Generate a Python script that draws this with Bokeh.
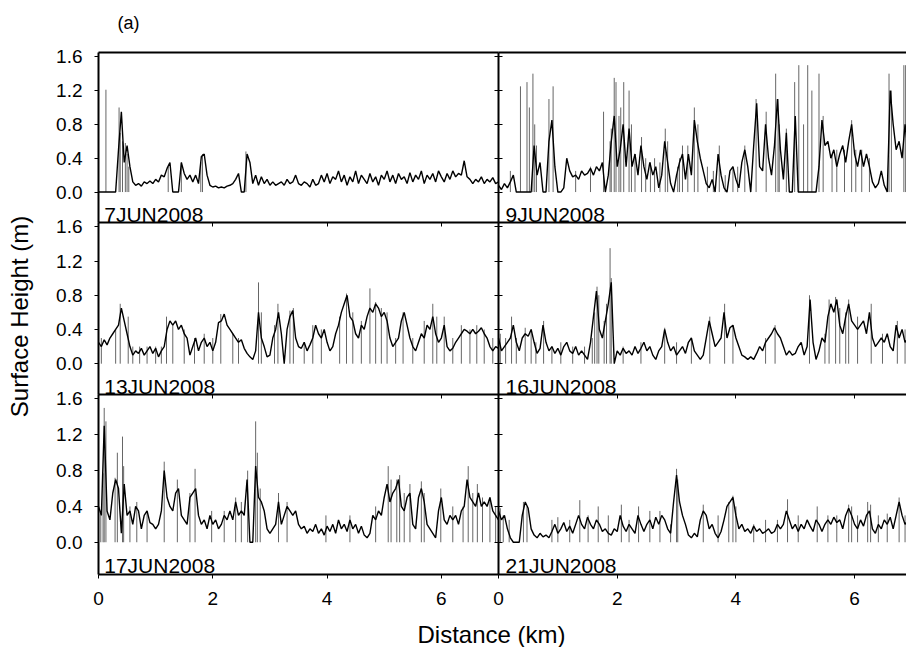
import math
from bokeh.plotting import figure
from bokeh.models import Range1d, LinearAxis, FixedTicker, PrintfTickFormatter, Label
from bokeh.embed import file_html
from bokeh.resources import INLINE

# ---------------- data ----------------
distance_km = [
    0.00, 0.05, 0.10, 0.15, 0.20, 0.25, 0.30, 0.35, 0.40, 0.45,
    0.50, 0.55, 0.60, 0.65, 0.70, 0.75, 0.80, 0.85, 0.90, 0.95,
    1.00, 1.05, 1.10, 1.15, 1.20, 1.25, 1.30, 1.35, 1.40, 1.45,
    1.50, 1.55, 1.60, 1.65, 1.70, 1.75, 1.80, 1.85, 1.90, 1.95,
    2.00, 2.05, 2.10, 2.15, 2.20, 2.25, 2.30, 2.35, 2.40, 2.45,
    2.50, 2.55, 2.60, 2.65, 2.70, 2.75, 2.80, 2.85, 2.90, 2.95,
    3.00, 3.05, 3.10, 3.15, 3.20, 3.25, 3.30, 3.35, 3.40, 3.45,
    3.50, 3.55, 3.60, 3.65, 3.70, 3.75, 3.80, 3.85, 3.90, 3.95,
    4.00, 4.05, 4.10, 4.15, 4.20, 4.25, 4.30, 4.35, 4.40, 4.45,
    4.50, 4.55, 4.60, 4.65, 4.70, 4.75, 4.80, 4.85, 4.90, 4.95,
    5.00, 5.05, 5.10, 5.15, 5.20, 5.25, 5.30, 5.35, 5.40, 5.45,
    5.50, 5.55, 5.60, 5.65, 5.70, 5.75, 5.80, 5.85, 5.90, 5.95,
    6.00, 6.05, 6.10, 6.15, 6.20, 6.25, 6.30, 6.35, 6.40, 6.45,
    6.50, 6.55, 6.60, 6.65, 6.70, 6.75, 6.80, 6.85, 6.90, 6.95,
    7.00,
]

panel_dates = ["7JUN2008", "9JUN2008", "13JUN2008", "16JUN2008", "17JUN2008", "21JUN2008"]

height_7jun = [
    0, 0, 0, 0, 0, 0, 0, 0.5, 0.95, 0.35,
    0.55, 0.3, 0.12, 0.08, 0.1, 0.07, 0.12, 0.1, 0.13, 0.1,
    0.15, 0.12, 0.2, 0.18, 0.28, 0.35, 0.0, 0.0, 0.0, 0.35,
    0.22, 0.15, 0.2, 0.12, 0.2, 0.1, 0.42, 0.45, 0.2, 0.08,
    0.06, 0.07, 0.05, 0.06, 0.05, 0.07, 0.08, 0.1, 0.15, 0.22,
    0.0, 0.0, 0.45, 0.35, 0.1, 0.2, 0.08, 0.18, 0.1, 0.15,
    0.08, 0.12, 0.08, 0.1, 0.12, 0.08, 0.15, 0.1, 0.12, 0.2,
    0.1, 0.08, 0.12, 0.1, 0.06, 0.15, 0.08, 0.1, 0.2, 0.12,
    0.22, 0.1, 0.18, 0.15, 0.25, 0.12, 0.2, 0.08, 0.18, 0.12,
    0.25, 0.1, 0.2, 0.15, 0.1, 0.22, 0.12, 0.18, 0.08, 0.2,
    0.15, 0.25, 0.12, 0.2, 0.1, 0.22, 0.15, 0.18, 0.1, 0.23,
    0.12, 0.2, 0.15, 0.25, 0.1, 0.2, 0.15, 0.22, 0.12, 0.25,
    0.18, 0.12, 0.22, 0.15, 0.25, 0.18, 0.22, 0.2, 0.37, 0.18,
    0.15, 0.1, 0.15, 0.12, 0.18, 0.1, 0.15, 0.12, 0.17, 0.1,
    0.12,
]
height_9jun = [
    0.08, 0.03, 0.1, 0.05, 0.12, 0.2, 0.0, 0.0, 0.0, 0.0,
    0.0, 0.0, 0.55, 0.2, 0.35, 0.0, 0.0, 0.6, 0.85, 0.3,
    0.0, 0.0, 0.05, 0.4, 0.25, 0.18, 0.2, 0.15, 0.25, 0.2,
    0.22, 0.28, 0.2, 0.3, 0.25, 0.35, 0.0, 0.2, 0.6, 0.9,
    0.3, 0.5, 0.8, 0.3, 0.75, 0.3, 0.45, 0.2, 0.55, 0.3,
    0.15, 0.35, 0.2, 0.3, 0.05, 0.2, 0.6, 0.35, 0.1, 0.0,
    0.2, 0.35, 0.45, 0.15, 0.45, 0.2, 0.85, 0.6, 0.4, 0.25,
    0.1, 0.05, 0.15, 0.0, 0.45, 0.2, 0.05, 0.0, 0.25, 0.3,
    0.15, 0.05, 0.35, 0.5, 0.3, 0.0, 0.55, 1.05, 0.3, 0.25,
    0.8, 0.4, 0.2, 0.55, 1.1, 0.5, 0.15, 0.7, 0.0, 0.0,
    0.9, 0.0, 0.0, 0.0, 0.0, 0.0, 0.0, 0.0, 0.3, 0.85,
    0.55, 0.6, 0.4, 0.5, 0.3, 0.45, 0.55, 0.35, 0.6, 0.8,
    0.45, 0.3, 0.5, 0.3, 0.45, 0.3, 0.12, 0.05, 0.1, 0.25,
    0.08, 0.0, 1.2, 0.8, 0.5, 0.6, 0.4, 0.8, 0.5, 0.6,
    0.4,
]
height_13jun = [
    0.25, 0.2, 0.28, 0.22, 0.3, 0.35, 0.4, 0.45, 0.65, 0.5,
    0.35, 0.2, 0.1, 0.15, 0.12, 0.18, 0.1, 0.15, 0.2, 0.12,
    0.18, 0.08, 0.15, 0.2, 0.4, 0.5, 0.45, 0.5, 0.4, 0.45,
    0.35, 0.3, 0.1, 0.2, 0.3, 0.15, 0.25, 0.3, 0.2, 0.25,
    0.15, 0.25, 0.48, 0.5, 0.58, 0.45, 0.4, 0.35, 0.3, 0.25,
    0.28, 0.18, 0.12, 0.08, 0.05, 0.15, 0.6, 0.3, 0.2, 0.08,
    0.1, 0.3, 0.4, 0.6, 0.35, 0.0, 0.4, 0.55, 0.62, 0.3,
    0.2, 0.18, 0.25, 0.15, 0.22, 0.3, 0.45, 0.35, 0.3, 0.4,
    0.25, 0.15, 0.2, 0.35, 0.45, 0.6, 0.7, 0.8, 0.55, 0.5,
    0.35, 0.3, 0.45, 0.4, 0.55, 0.65, 0.6, 0.7, 0.65, 0.55,
    0.6, 0.5, 0.3, 0.2, 0.25, 0.3, 0.5, 0.6, 0.45, 0.3,
    0.2, 0.15, 0.25, 0.35, 0.3, 0.45, 0.4, 0.55, 0.35, 0.25,
    0.3, 0.45, 0.2, 0.15, 0.18, 0.25, 0.3, 0.35, 0.4, 0.38,
    0.35, 0.4, 0.35, 0.38, 0.42, 0.35, 0.3, 0.2, 0.15, 0.2,
    0.18,
]
height_16jun = [
    0.3, 0.15, 0.2, 0.25, 0.3, 0.45, 0.25, 0.15, 0.3, 0.35,
    0.32, 0.4, 0.25, 0.12, 0.18, 0.45, 0.25, 0.15, 0.2, 0.12,
    0.18, 0.1, 0.2, 0.25, 0.15, 0.12, 0.2, 0.1, 0.15, 0.1,
    0.05, 0.25, 0.55, 0.85, 0.4, 0.3, 0.5, 0.7, 0.95, 0.0,
    0.15, 0.1, 0.18, 0.12, 0.15, 0.1, 0.2, 0.12, 0.18, 0.25,
    0.15, 0.2, 0.1, 0.05, 0.15, 0.2, 0.4, 0.25, 0.15, 0.2,
    0.1, 0.15, 0.2, 0.12, 0.25, 0.3, 0.15, 0.1, 0.05, 0.1,
    0.3, 0.5, 0.35, 0.2, 0.25, 0.3, 0.6, 0.3, 0.42, 0.45,
    0.3, 0.2, 0.1, 0.08, 0.05, 0.08, 0.05, 0.12, 0.2, 0.15,
    0.25, 0.3, 0.35, 0.42, 0.35, 0.3, 0.2, 0.1, 0.15, 0.1,
    0.12, 0.2, 0.25, 0.1, 0.2, 0.75, 0.25, 0.05, 0.15, 0.3,
    0.25, 0.55, 0.7, 0.6, 0.75, 0.45, 0.35, 0.55, 0.7, 0.5,
    0.45, 0.4, 0.45, 0.5, 0.35, 0.6, 0.3, 0.2, 0.25, 0.3,
    0.25, 0.35, 0.2, 0.15, 0.45, 0.3, 0.4, 0.25, 0.3, 0.2,
    0.25,
]
height_17jun = [
    0.4, 0.3, 1.3, 0.35, 0.25, 0.55, 0.7, 0.6, 0.1, 0.65,
    0.3, 0.35, 0.2, 0.4, 0.35, 0.15, 0.3, 0.35, 0.22, 0.2,
    0.15, 0.2, 0.35, 0.8, 0.5, 0.4, 0.35, 0.55, 0.6, 0.3,
    0.25, 0.2, 0.5, 0.55, 0.6, 0.3, 0.2, 0.25, 0.15, 0.3,
    0.2, 0.25, 0.15, 0.2, 0.3, 0.25, 0.35, 0.25, 0.45, 0.3,
    0.35, 0.3, 0.7, 0.0, 0.0, 0.85, 0.5, 0.45, 0.35, 0.15,
    0.1, 0.15, 0.2, 0.45, 0.2, 0.3, 0.4, 0.35, 0.3, 0.35,
    0.2, 0.15, 0.18, 0.1, 0.15, 0.12, 0.2, 0.1, 0.15, 0.08,
    0.18, 0.12, 0.2, 0.1, 0.25, 0.15, 0.2, 0.12, 0.25, 0.15,
    0.2, 0.1, 0.18, 0.08, 0.05, 0.1, 0.3, 0.25, 0.35, 0.3,
    0.5, 0.65, 0.45, 0.55, 0.6, 0.7, 0.4, 0.35, 0.5, 0.55,
    0.2, 0.15, 0.5, 0.6, 0.45, 0.2, 0.15, 0.1, 0.05, 0.35,
    0.5, 0.25, 0.2, 0.3, 0.25, 0.3, 0.2, 0.35, 0.4, 0.7,
    0.5, 0.45, 0.4, 0.55, 0.4, 0.45, 0.4, 0.5, 0.35, 0.3,
    0.25,
]
height_21jun = [
    0.35, 0.25, 0.3, 0.15, 0.05, 0.0, 0.0, 0.0, 0.3, 0.45,
    0.38, 0.15, 0.08, 0.05, 0.1, 0.06, 0.08, 0.05, 0.12, 0.2,
    0.1, 0.15, 0.22, 0.12, 0.18, 0.1, 0.2, 0.3, 0.2, 0.15,
    0.28, 0.2, 0.15, 0.25, 0.2, 0.12, 0.15, 0.1, 0.08, 0.15,
    0.12, 0.3, 0.18, 0.12, 0.2, 0.15, 0.1, 0.3, 0.2, 0.12,
    0.2, 0.25, 0.15, 0.28, 0.2, 0.3, 0.25, 0.15, 0.1, 0.45,
    0.75, 0.45, 0.3, 0.2, 0.08, 0.05, 0.1, 0.06, 0.25, 0.35,
    0.3, 0.15, 0.2, 0.1, 0.05, 0.12, 0.25, 0.4, 0.45, 0.5,
    0.3, 0.15, 0.2, 0.12, 0.15, 0.1, 0.18, 0.12, 0.15, 0.1,
    0.12, 0.15, 0.1, 0.12, 0.2, 0.15, 0.2, 0.35, 0.25, 0.15,
    0.2, 0.12, 0.2, 0.15, 0.25, 0.18, 0.12, 0.25, 0.2, 0.12,
    0.2, 0.25, 0.2, 0.28, 0.22, 0.25, 0.15, 0.3, 0.38, 0.3,
    0.2, 0.15, 0.25, 0.18, 0.3, 0.35, 0.15, 0.1, 0.2, 0.15,
    0.25, 0.2, 0.28, 0.15, 0.3, 0.45, 0.3, 0.2, 0.25, 0.15,
    0.2,
]

# thin vertical drop-outs / spikes (position km, height m)
spike_km_7jun = [0.13, 0.36, 0.38, 0.42, 0.47, 0.50, 0.53, 1.22, 1.45, 1.79, 1.82, 2.58]
spike_m_7jun = [1.21, 1.0, 0.7, 0.6, 0.58, 0.45, 0.3, 0.3, 0.35, 0.35, 0.45, 0.48]

spike_km_9jun = [0.2, 0.37, 0.48, 0.52, 0.58, 0.61, 0.64, 0.85, 0.92, 1.3, 1.55, 1.77, 1.88, 1.9,
                 1.95, 1.98, 2.03, 2.06, 2.11, 2.2, 2.24, 2.3, 2.41, 2.48, 2.56, 2.63, 2.72, 2.81,
                 2.85, 3.02, 3.05, 3.1, 3.19, 3.3, 3.36, 3.52, 3.62, 3.72, 3.82, 3.95, 4.03, 4.15,
                 4.34, 4.51, 4.67, 4.71, 4.73, 4.85, 4.99, 5.06, 5.14, 5.21, 5.28, 5.4, 5.47, 5.62,
                 5.7, 5.83, 5.95, 6.02, 6.12, 6.25, 6.58, 6.62, 6.83, 6.86]
spike_m_9jun = [0.25, 1.25, 1.3, 1.0, 1.4, 0.8, 0.55, 1.1, 1.25, 0.25, 0.3, 0.95, 0.6, 0.75,
                1.35, 1.3, 0.9, 1.0, 1.3, 1.2, 0.8, 0.45, 0.65, 0.4, 0.35, 0.4, 0.35, 0.75,
                0.6, 0.3, 0.4, 0.55, 0.55, 1.0, 0.8, 0.3, 0.25, 0.55, 0.2, 0.3, 0.3, 0.55,
                1.1, 0.95, 1.4, 1.1, 0.8, 0.75, 1.3, 1.5, 0.8, 1.5, 1.2, 1.4, 0.9, 0.45,
                0.5, 0.5, 0.85, 0.5, 0.5, 0.4, 1.4, 1.2, 1.5, 1.5]

spike_km_13jun = [0.05, 0.3, 0.38, 0.52, 0.6, 0.72, 0.85, 1.0, 1.1, 1.19, 1.3, 1.5, 1.68, 1.85,
                  2.0, 2.14, 2.35, 2.45, 2.8, 2.85, 3.08, 3.14, 3.35, 3.41, 3.6, 3.75, 3.9, 4.22,
                  4.34, 4.45, 4.6, 4.75, 4.85, 4.95, 5.05, 5.2, 5.33, 5.5, 5.7, 5.85, 5.92, 6.05,
                  6.2, 6.35, 6.5, 6.62, 6.75, 6.9]
spike_m_13jun = [0.3, 0.4, 0.7, 0.55, 0.2, 0.2, 0.2, 0.2, 0.2, 0.55, 0.45, 0.4, 0.3, 0.35,
                 0.3, 0.58, 0.35, 0.3, 0.95, 0.6, 0.45, 0.7, 0.62, 0.65, 0.25, 0.45, 0.4, 0.55,
                 0.82, 0.6, 0.5, 0.88, 0.72, 0.65, 0.6, 0.3, 0.6, 0.3, 0.5, 0.7, 0.55, 0.55,
                 0.3, 0.45, 0.4, 0.45, 0.4, 0.3]

spike_km_16jun = [0.03, 0.12, 0.22, 0.3, 0.45, 0.55, 0.63, 0.76, 0.9, 1.05, 1.25, 1.45, 1.58, 1.62,
                  1.66, 1.69, 1.78, 1.82, 1.88, 1.9, 2.1, 2.4, 2.8, 3.0, 3.25, 3.56, 3.81, 3.95,
                  4.5, 4.66, 5.24, 5.5, 5.57, 5.68, 5.75, 5.85, 5.9, 6.05, 6.28, 6.47, 6.72, 6.85]
spike_m_16jun = [0.35, 0.3, 0.55, 0.3, 0.42, 0.4, 0.25, 0.5, 0.2, 0.25, 0.2, 0.2, 0.3, 0.6,
                 0.9, 0.8, 0.5, 0.7, 1.35, 1.0, 0.2, 0.25, 0.42, 0.25, 0.3, 0.55, 0.7, 0.45,
                 0.3, 0.45, 0.8, 0.35, 0.75, 0.78, 0.65, 0.6, 0.75, 0.55, 0.7, 0.35, 0.5, 0.4]

spike_km_17jun = [0.04, 0.08, 0.1, 0.13, 0.29, 0.33, 0.42, 0.44, 0.55, 0.67, 0.85, 1.15, 1.38, 1.6,
                  1.69, 1.98, 2.2, 2.4, 2.5, 2.61, 2.75, 2.78, 2.83, 3.15, 3.3, 3.98, 4.4, 4.85,
                  5.07, 5.12, 5.22, 5.27, 5.35, 5.45, 5.65, 5.7, 5.99, 6.2, 6.38, 6.47, 6.55, 6.63,
                  6.72, 6.85, 6.95]
spike_m_17jun = [0.35, 0.77, 1.5, 1.35, 0.72, 1.0, 1.18, 0.85, 0.4, 0.45, 0.35, 0.9, 0.7, 0.55,
                 0.82, 0.35, 0.35, 0.5, 0.45, 0.8, 1.35, 1.0, 0.6, 0.55, 0.45, 0.3, 0.3, 0.4,
                 0.85, 0.7, 0.7, 0.75, 0.55, 0.65, 0.68, 0.55, 0.6, 0.4, 0.4, 0.85, 0.55, 0.65,
                 0.5, 0.5, 0.4]

spike_km_21jun = [0.03, 0.08, 0.18, 0.42, 0.48, 0.9, 1.0, 1.2, 1.37, 1.51, 1.68, 1.85, 2.07, 2.2,
                  2.36, 2.55, 2.72, 2.9, 3.0, 3.02, 3.45, 3.7, 3.88, 3.95, 4.0, 4.3, 4.5, 4.7,
                  4.87, 5.05, 5.37, 5.55, 5.7, 5.9, 5.95, 6.05, 6.22, 6.27, 6.4, 6.55, 6.75, 6.85]
spike_m_21jun = [0.38, 0.3, 0.25, 0.45, 0.4, 0.25, 0.28, 0.25, 0.47, 0.3, 0.4, 0.3, 0.42, 0.25,
                 0.4, 0.35, 0.35, 0.2, 0.82, 0.7, 0.42, 0.3, 0.45, 0.52, 0.4, 0.2, 0.25, 0.25,
                 0.48, 0.3, 0.4, 0.3, 0.3, 0.42, 0.4, 0.3, 0.45, 0.42, 0.3, 0.32, 0.5, 0.3]

x_ticks = [0, 2, 4, 6]
y_ticks = [0.0, 0.4, 0.8, 1.2, 1.6]

# ---------------- layout constants (pixels) ----------------
FONT = "Liberation Sans"
W, H = 906, 647
COL_LEFT = {"L": 98, "R": 498}
KM_PX = {"L": 400 / 7.0, "R": 59.35}
ROW_EDGES = [52, 222, 394, 574]
Y_LO, Y_HI = -0.36, 1.65
X_END = 7.0

panels = [
    (0, "L", height_7jun, spike_km_7jun, spike_m_7jun, panel_dates[0]),
    (0, "R", height_9jun, spike_km_9jun, spike_m_9jun, panel_dates[1]),
    (1, "L", height_13jun, spike_km_13jun, spike_m_13jun, panel_dates[2]),
    (1, "R", height_16jun, spike_km_16jun, spike_m_16jun, panel_dates[3]),
    (2, "L", height_17jun, spike_km_17jun, spike_m_17jun, panel_dates[4]),
    (2, "R", height_21jun, spike_km_21jun, spike_m_21jun, panel_dates[5]),
]
for _, _, hs, sx, sh, _ in panels:
    assert len(hs) == len(distance_km), len(hs)
    assert len(sx) == len(sh)

# the frame covers the whole canvas; every panel gets its own ranges inside it
p = figure(width=W, height=H, output_backend="svg", toolbar_location=None,
           x_range=Range1d(0, W), y_range=Range1d(H, 0),
           x_axis_location=None, y_axis_location=None,
           min_border_left=0, min_border_right=0, min_border_top=0, min_border_bottom=0)
if p.title is not None:
    p.title.visible = False
p.grid.visible = False
p.outline_line_color = None
p.background_fill_color = "white"
p.border_fill_color = "white"

xr = {}
for c in ("L", "R"):
    xr[c] = Range1d((0 - COL_LEFT[c]) / KM_PX[c], (W - COL_LEFT[c]) / KM_PX[c])
yr = {}
for i in range(3):
    top, bot = ROW_EDGES[i], ROW_EDGES[i + 1]
    s = (bot - top) / (Y_HI - Y_LO)
    yr[f"r{i}"] = Range1d(Y_LO - (H - bot) / s, Y_HI + top / s)
p.extra_x_ranges = xr
p.extra_y_ranges = yr

for row, col, hs, sx, sh, date in panels:
    rn = f"r{row}"
    p.segment(x0=sx, y0=[0.0] * len(sx), x1=sx, y1=sh, x_range_name=col, y_range_name=rn,
              line_color="#666666", line_width=1)
    p.line(distance_km, hs, x_range_name=col, y_range_name=rn, line_color="black", line_width=1.4)
    p.add_layout(Label(x=0.1 if col == "L" else 0.12, y=-0.265, text=date,
                       x_range_name=col, y_range_name=rn, text_font=FONT,
                       text_font_size="21px", text_color="black", text_baseline="alphabetic"))


def add_axis(side, xname, yname, loc, bounds, ticks, tin, tout, labels=False, fmt=None):
    ax = LinearAxis(x_range_name=xname, y_range_name=yname, fixed_location=loc, bounds=bounds,
                    ticker=FixedTicker(ticks=ticks), axis_line_width=2, axis_line_color="black",
                    major_tick_in=tin, major_tick_out=tout, minor_tick_in=0, minor_tick_out=0,
                    major_tick_line_width=1, major_tick_line_color="black")
    if fmt is not None:
        ax.formatter = fmt
    if labels:
        ax.major_label_text_font = FONT
        ax.major_label_text_font_size = "19px"
        ax.major_label_text_color = "black"
        ax.major_label_standoff = 12 if side == "left" else 13
    else:
        ax.major_label_text_color = None
    p.add_layout(ax, side)


for i in range(3):
    rn = f"r{i}"
    add_axis("left", "L", rn, 0.0, (Y_LO, Y_HI), y_ticks, 0, 4, labels=True,
             fmt=PrintfTickFormatter(format="%.1f"))
    add_axis("left", "R", rn, 0.0, (Y_LO, Y_HI), y_ticks, 4, 4)

for c in ("L", "R"):
    add_axis("above", c, "r0", Y_HI, (0, X_END), x_ticks, 0, 0)
    add_axis("above", c, "r1", Y_HI, (0, X_END), x_ticks, 4, 0)
    add_axis("above", c, "r2", Y_HI, (0, X_END), x_ticks, 4, 0)
    add_axis("below", c, "r2", Y_LO, (0, X_END), x_ticks, 0, 4, labels=True)

p.add_layout(Label(x=117, y=22, text="(a)", text_font=FONT, text_font_size="18px",
                   text_color="black", text_baseline="middle"))
p.add_layout(Label(x=19, y=316, text="Surface Height (m)", angle=math.pi / 2, text_font=FONT,
                   text_font_size="24px", text_color="black", text_align="center",
                   text_baseline="middle"))
p.add_layout(Label(x=491, y=634, text="Distance (km)", text_font=FONT, text_font_size="24px",
                   text_color="black", text_align="center", text_baseline="middle"))

open("out.html", "w").write(file_html(p, INLINE))
